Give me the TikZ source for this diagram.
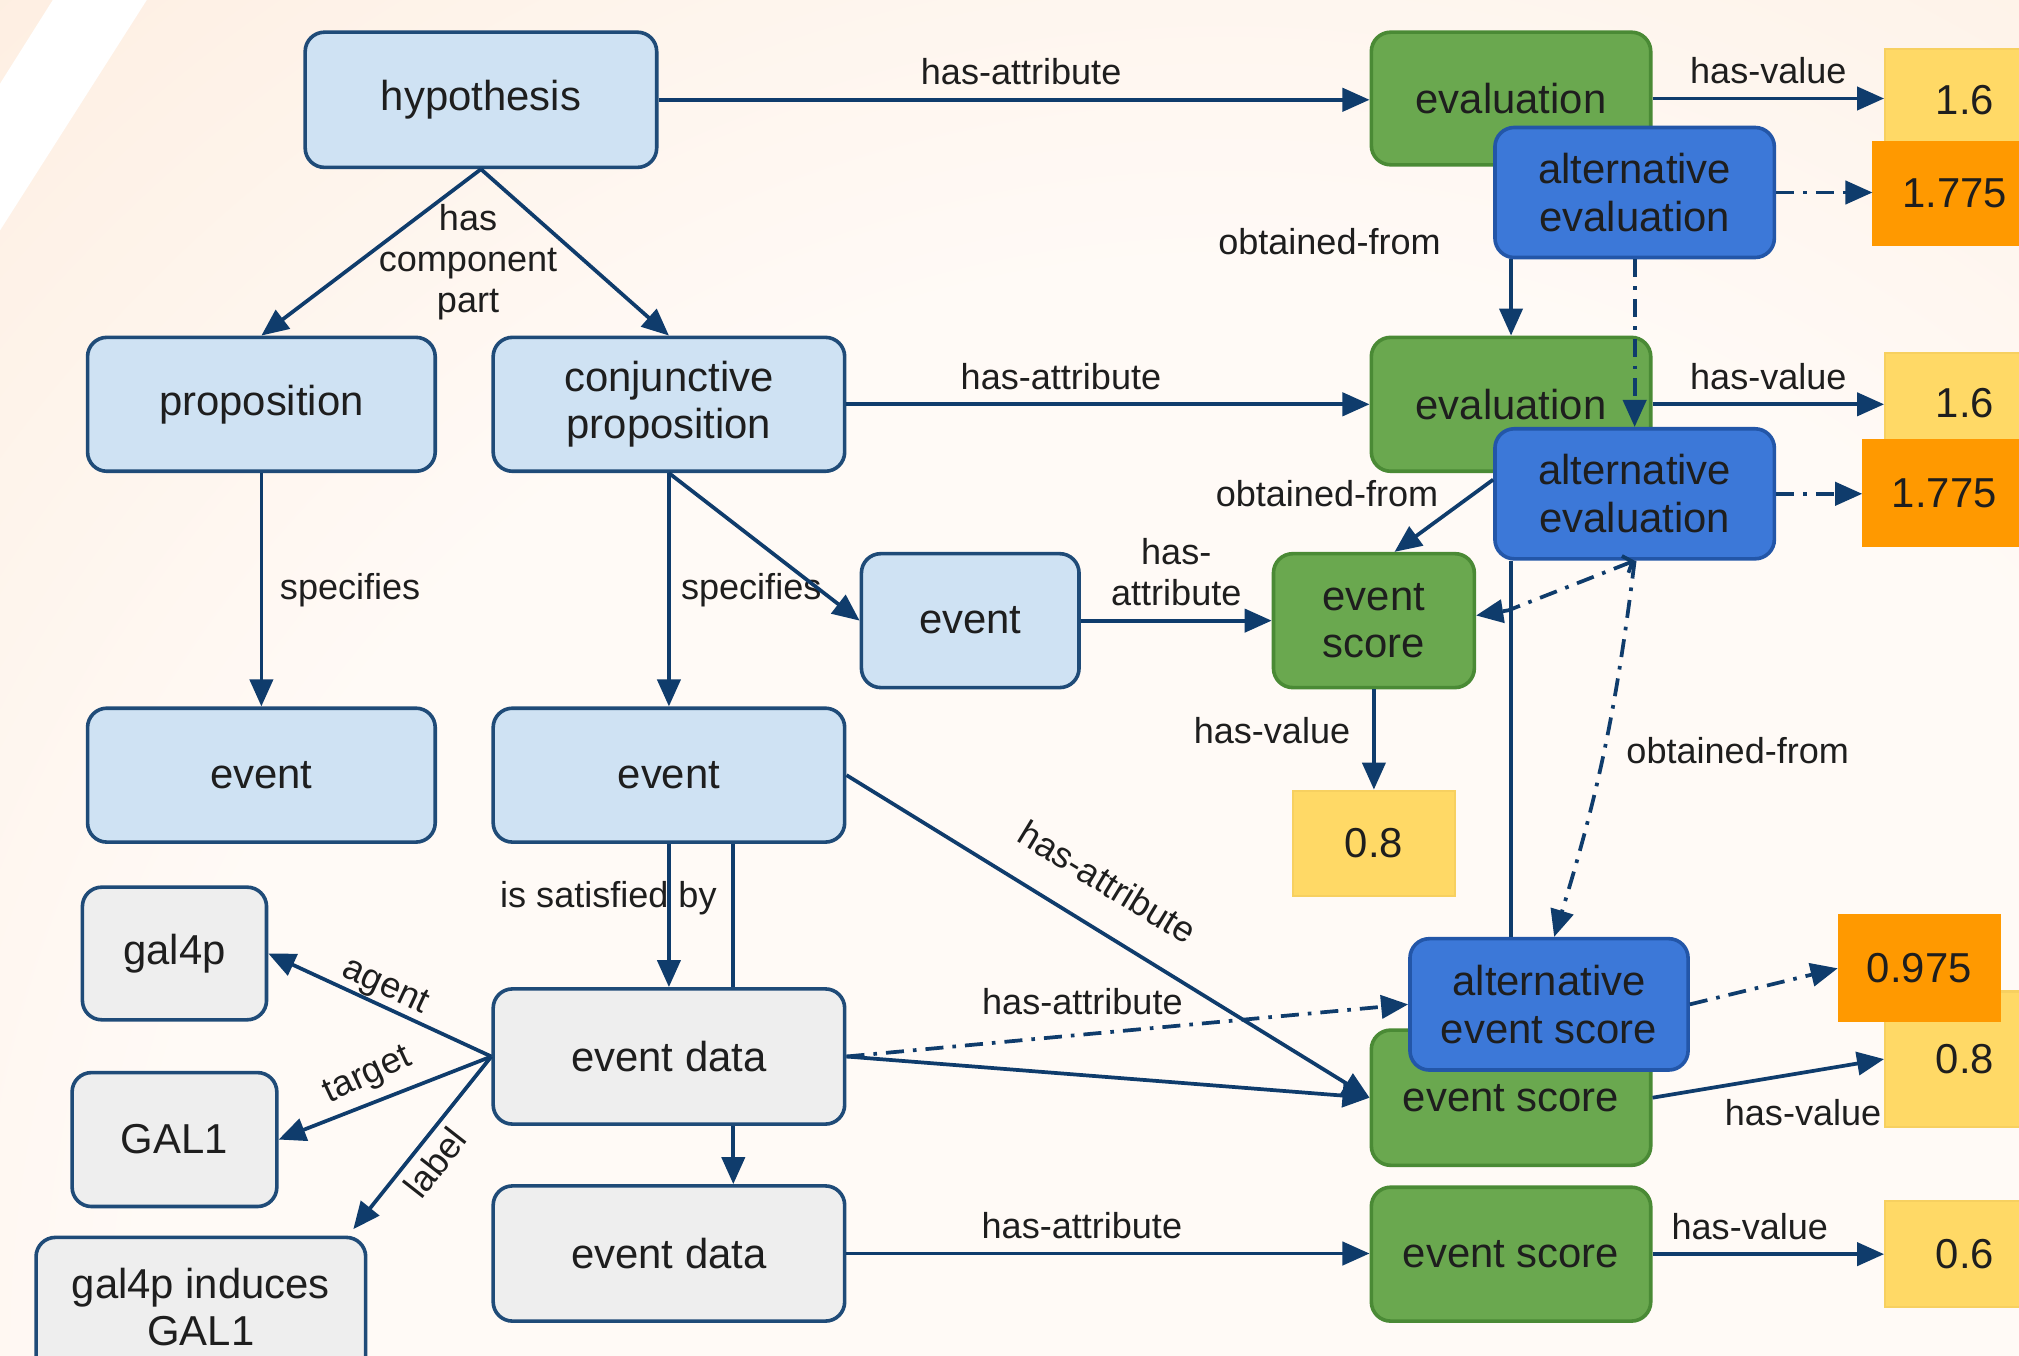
\documentclass[tikz,border=0pt]{standalone}
\usepackage{fontspec}
\setmainfont{Liberation Sans}
\usetikzlibrary{arrows.meta,calc,positioning}

\definecolor{lblue}{HTML}{CFE2F3}
\definecolor{navy}{HTML}{1F4B78}
\definecolor{arrowc}{HTML}{0F3C6C}
\definecolor{gfill}{HTML}{6AA84F}
\definecolor{gborder}{HTML}{4A8A35}
\definecolor{bfill}{HTML}{3C78D8}
\definecolor{bborder}{HTML}{2356A8}
\definecolor{grayfill}{HTML}{EEEEEE}
\definecolor{yfill}{HTML}{FFD966}
\definecolor{yborder}{HTML}{F7D060}
\definecolor{ofill}{HTML}{FF9900}
\definecolor{bgA}{HTML}{FFFAF6}
\definecolor{bgB}{HTML}{FCE4CF}
\definecolor{bgC}{HTML}{FBD9BE}
\definecolor{txt}{HTML}{1E1E1E}

\pgfdeclareradialshading{bgshade}{\pgfpoint{0bp}{0bp}}{color(0bp)=(bgA); color(14bp)=(bgA); color(33bp)=(bgB); color(50bp)=(bgC)}

\tikzset{
 box/.style={rectangle, rounded corners=7.5pt, line width=1.4pt, inner sep=0pt, align=center, text=txt, font=\fontsize{16.25}{18.5}\selectfont},
 bluebox/.style={box, fill=lblue, draw=navy},
 graybox/.style={box, fill=grayfill, draw=navy},
 greenbox/.style={box, fill=gfill, draw=gborder},
 altbox/.style={box, fill=bfill, draw=bborder},
 valbox/.style={rectangle, inner sep=0pt, line width=0.8pt, text=txt, font=\fontsize{16.25}{18.5}\selectfont},
 yellowbox/.style={valbox, fill=yfill, draw=yborder},
 orangebox/.style={valbox, fill=ofill, draw=ofill},
 lbl/.style={inner sep=0pt, text=txt, font=\fontsize{14}{16}\selectfont, align=center},
 conn/.style={draw=arrowc, line width=1.45pt, -{Triangle[length=10.5pt,width=9pt]}},
 plainconn/.style={draw=arrowc, line width=1.45pt},
 altconn/.style={conn, dash pattern=on 7pt off 3.5pt on 1.4pt off 3.5pt},
}

\begin{document}
\begin{tikzpicture}[x=0.5pt, y=-0.5pt]
\useasboundingbox (0,0) rectangle (1568,1053);
\begin{scope}
\clip (0,0) rectangle (1568,1053);
\shade[shading=bgshade] (950,1050) circle[radius=750pt];
\fill[white] (41,0) -- (114,0) -- (0,179) -- (0,65) -- cycle;

% nodes
\node[bluebox, minimum width=136.5pt, minimum height=52.5pt] (hyp) at (373.5,77.5) {hypothesis};
\node[bluebox, minimum width=135pt, minimum height=52pt] (prop) at (203,314) {proposition};
\node[bluebox, minimum width=136.5pt, minimum height=52pt] (conj) at (519.5,314) {conjunctive\\proposition};
\node[bluebox, minimum width=135pt, minimum height=52pt] (evL) at (203,602) {event};
\node[bluebox, minimum width=136.5pt, minimum height=52pt] (evM) at (519.5,602) {event};
\node[bluebox, minimum width=84.5pt, minimum height=52pt] (evS) at (753.5,482) {event};
\node[greenbox, minimum width=78pt, minimum height=52pt] (esS) at (1067,482) {event\\score};
\node[yellowbox, minimum width=63pt, minimum height=41pt] (v08a) at (1067,655) {0.8};

\node[greenbox, minimum width=108.5pt, minimum height=51.5pt] (eval1) at (1173.5,76.5) {evaluation};
\node[altbox, minimum width=108.5pt, minimum height=50.5pt] (alt1) at (1269.5,149.5) {alternative\\evaluation};
\node[yellowbox, minimum width=62pt, minimum height=40pt] (v16a) at (1526,78) {1.6};
\node[orangebox, minimum width=63pt, minimum height=40pt] (o1775a) at (1518,150) {1.775};

\node[greenbox, minimum width=108.5pt, minimum height=52pt] (eval2) at (1173.5,314) {evaluation};
\node[altbox, minimum width=108.5pt, minimum height=50.5pt] (alt2) at (1269.5,383.5) {alternative\\evaluation};
\node[yellowbox, minimum width=62pt, minimum height=39pt] (v16b) at (1526,313) {1.6};
\node[orangebox, minimum width=63pt, minimum height=41pt] (o1775b) at (1510,383) {1.775};

\node[graybox, minimum width=71.5pt, minimum height=51.5pt] (gal4p) at (135.5,740.5) {gal4p};
\node[graybox, minimum width=79.5pt, minimum height=52pt] (GAL1) at (135.5,885) {GAL1};
\node[graybox, minimum width=128pt, minimum height=54pt] (induces) at (156,1015) {gal4p induces\\GAL1};
\node[graybox, minimum width=136.5pt, minimum height=52.5pt] (ed1) at (519.5,820.5) {event data};
\node[graybox, minimum width=136.5pt, minimum height=52.5pt] (ed2) at (519.5,973.5) {event data};

\node[greenbox, minimum width=108.5pt, minimum height=52.5pt] (es2) at (1173.5,852.5) {event score};
\node[altbox, minimum width=108pt, minimum height=51pt] (aes) at (1203,780) {alternative\\event score};
\node[greenbox, minimum width=108.5pt, minimum height=52pt] (es3) at (1173.5,974) {event score};
\node[yellowbox, minimum width=62pt, minimum height=52.5pt] (v08b) at (1526,822.5) {0.8};
\node[orangebox, minimum width=62.5pt, minimum height=41pt] (o975) at (1490.5,752) {0.975};
\node[yellowbox, minimum width=62pt, minimum height=41pt] (v06) at (1526,974) {0.6};

% connectors
\draw[conn] (hyp.east) -- node[lbl, above=5pt, pos=0.51] (la) {has-attribute} (hyp.east -| eval1.west);
\draw[conn] (hyp.south) -- (prop.north);
\draw[conn] (hyp.south) -- (conj.north);
\node[lbl] (lhcp) at ($(hyp.south)+(-10,72)$) {has\\component\\part};
\draw[conn] (eval1.east) -- node[lbl, above=5pt] (lb) {has-value} (eval1.east -| v16a.west);
\draw[altconn] (alt1.east) -- (alt1.east -| o1775a.west);
\draw[conn] (eval2.north |- alt1.south) -- node[lbl, pos=0, xshift=-70.5pt, yshift=7pt] (lc) {obtained-from} (eval2.north);
\draw[altconn] (alt1.south) -- (alt2.north);

\draw[conn] (conj.east) -- node[lbl, above=5pt, pos=0.41] (ld) {has-attribute} (conj.east -| eval2.west);
\draw[conn] (eval2.east) -- node[lbl, above=5pt] (le) {has-value} (eval2.east -| v16b.west);
\draw[altconn] (alt2.east) -- (alt2.east -| o1775b.west);
\draw[conn] ($(alt2.west)+(0,-11)$) -- node[lbl, pos=0, xshift=-64.5pt, yshift=-5.5pt] (lf) {obtained-from} ($(esS.north)+(16,0)$);
\draw[altconn, {Straight Barb[length=3pt,width=7pt]}-{Triangle[length=10.5pt,width=9pt]}] (alt2.south) -- ($(esS.east)+(25,-8)$) -- ($(esS.east)+(0,-4)$);
\draw[plainconn] (eval2.north |- alt2.south) -- (eval2.north |- aes.north);
\draw[altconn] (alt2.south) to[bend left=5] node[lbl, right=8pt] (lg) {obtained-from} ($(aes.north)+(4,0)$);

\draw[conn] (conj.south) -- node[lbl, right=4pt] (lh) {specifies} (evM.north);
\draw[conn] (conj.south) -- (evS.west);
\draw[conn] (prop.south) -- node[lbl, right=6.5pt] (li) {specifies} (evL.north);
\draw[conn] (evS.east) -- node[lbl, above=5pt] (lj) {has-\\attribute} (esS.west);
\draw[conn] (esS.south) -- node[lbl, left=8.5pt, pos=0.41] (lk) {has-value} (v08a.north);

\draw[conn] (evM.south) -- node[lbl, pos=0.38, xshift=-23.5pt] (ll) {is satisfied by} (ed1.north);
\draw[plainconn] ($(evM.south)+(50,0)$) -- ($(ed1.north)+(50,0)$);
\draw[conn] ($(ed1.south)+(50,0)$) -- ($(ed2.north)+(50,0)$);
\draw[conn] (evM.east) -- (es2.west);
\node[lbl, rotate=-31.3] (lm) at (860,685) {has-attribute};
\draw[conn] (ed1.east) -- (es2.west);
\draw[altconn] (ed1.east) -- node[lbl, pos=0.42, above=7pt] (ln) {has-attribute} (aes.west);
\draw[conn] (ed2.east) -- node[lbl, above=5pt, pos=0.45] (lo) {has-attribute} (ed2.east -| es3.west);
\draw[conn] (es3.east) -- node[lbl, above=5pt, pos=0.42] (lp) {has-value} (es3.east -| v06.west);
\draw[conn] (es2.east) -- node[lbl, below=9.5pt, pos=0.65] (lq) {has-value} (v08b.west);
\draw[altconn] (aes.east) -- (o975.west);

\draw[conn] (ed1.west) -- (gal4p.east);
\draw[conn] (ed1.west) -- (GAL1.east);
\draw[conn] (ed1.west) -- ($(induces.north east)+(-11,-5)$);
\node[lbl, rotate=-25] (lr) at (299,767) {agent};
\node[lbl, rotate=25] (ls) at (286,836) {target};
\node[lbl, rotate=52] (lt) at (338,903) {label};
\end{scope}
\end{tikzpicture}
\end{document}
